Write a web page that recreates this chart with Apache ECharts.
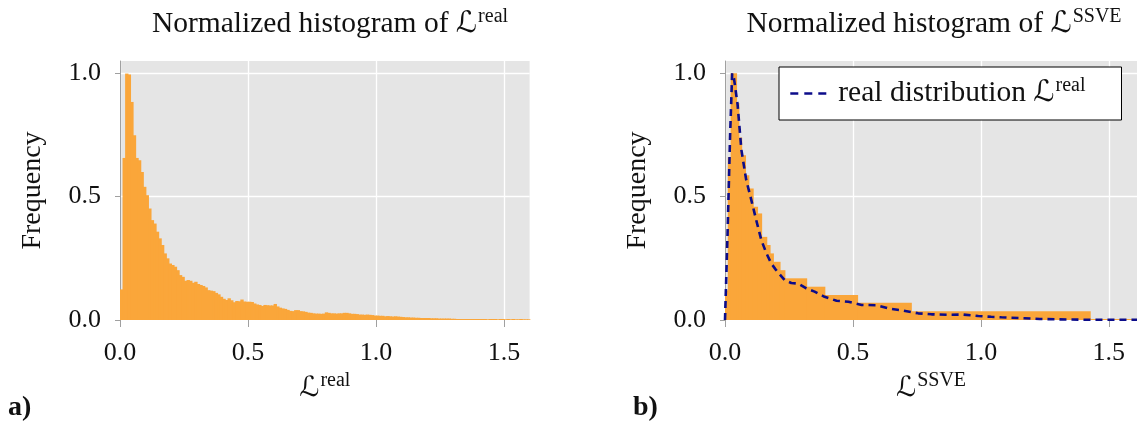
<!DOCTYPE html>
<html><head><meta charset="utf-8">
<script src="https://cdn.jsdelivr.net/npm/echarts@6/dist/echarts.min.js"></script>
<style>html,body{margin:0;padding:0;background:#fff}#c{width:1137px;height:425px}</style>
</head><body><div id="c"></div>
<script>
// ---------- data ----------
const binWidth = 0.01;
// left: normalized histogram of L_real (bins of width 0.01 starting at 0)
const realHist = [
 0.124,0.657,0.999,0.995,0.884,0.749,0.657,0.648,0.600,0.540,
 0.506,0.452,0.405,0.391,0.358,0.331,0.304,0.270,0.250,0.229,
 0.223,0.216,0.202,0.182,0.175,0.159,0.162,0.159,0.151,0.155,
 0.146,0.142,0.138,0.132,0.121,0.119,0.117,0.110,0.104,0.094,
 0.086,0.081,0.088,0.080,0.072,0.077,0.076,0.083,0.075,0.074,
 0.074,0.073,0.067,0.063,0.061,0.057,0.061,0.060,0.059,0.059,
 0.065,0.055,0.050,0.047,0.045,0.041,0.037,0.036,0.040,0.040,
 0.036,0.035,0.033,0.030,0.029,0.027,0.026,0.026,0.025,0.026,
 0.031,0.029,0.027,0.027,0.026,0.027,0.027,0.029,0.029,0.027,
 0.025,0.025,0.024,0.022,0.022,0.021,0.022,0.021,0.020,0.018,
 0.018,0.017,0.017,0.015,0.016,0.015,0.014,0.015,0.014,0.013,
 0.012,0.011,0.011,0.010,0.010,0.009,0.009,0.008,0.008,0.008,
 0.008,0.007,0.007,0.007,0.006,0.006,0.006,0.006,0.006,0.005,
 0.005,0.004,0.004,0.004,0.004,0.004,0.004,0.004,0.004,0.004,
 0.004,0.004,0.004,0.003,0.004,0.004,0.004,0.003,0.004,0.004,
 0.003,0.004,0.003,0.004,0.003,0.003,0.004,0.003,0.003,0.003
];
// right: normalized histogram of L_SSVE (bin edges + heights)
const ssveEdges = [0,0.011,0.022,0.044,0.053,0.064,0.079,0.092,0.109,0.126,0.142,0.162,0.175,0.188,0.214,0.233,0.318,0.389,0.517,0.727,1.426,1.61];
const ssveHist  = [0.12,0.66,1.0,0.88,0.74,0.668,0.587,0.533,0.459,0.432,0.337,0.304,0.27,0.236,0.202,0.169,0.135,0.101,0.070,0.035,0.004];
// right: dashed "real distribution" curve
const realLineX = [0,0.010,0.020,0.028,0.035,0.049,0.064,0.083,0.103,0.122,0.142,0.162,0.181,0.200,0.233,0.259,0.285,0.318,0.350,0.389,0.436,0.482,0.534,0.592,0.638,0.697,0.755,0.807,0.872,0.931,0.990,1.040,1.080,1.170,1.230,1.290,1.350,1.420,1.500,1.610];
const realLineY = [0,0.35,0.75,1.0,0.98,0.875,0.69,0.567,0.486,0.405,0.324,0.27,0.229,0.202,0.162,0.150,0.148,0.128,0.115,0.094,0.078,0.074,0.061,0.060,0.047,0.038,0.027,0.023,0.021,0.022,0.016,0.013,0.011,0.007,0.004,0.003,0.002,0.001,0.001,0.001];
const xTicks = [0, 0.5, 1.0, 1.5];
const yTicks = [0, 0.5, 1.0];

// ---------- style ----------
const FONT = "'Liberation Serif','DejaVu Serif','DejaVu Sans',serif";
const ORANGE = '#faa63a';
const NAVY = '#0c0c8a';
const BG = '#e5e5e5';
const AXIS = '#a0a0a0';

const realBars = realHist.map((v, i) => [i * binWidth, (i + 1) * binWidth, v]);
const ssveBars = ssveHist.map((v, i) => [ssveEdges[i], ssveEdges[i + 1], v]);
const realLine = realLineX.map((x, i) => [x, realLineY[i]]);

function rectItem(params, api) {
  const p0 = api.coord([api.value(0), api.value(2)]);
  const p1 = api.coord([api.value(1), 0]);
  return { type: 'rect',
    shape: { x: p0[0], y: p0[1], width: p1[0] - p0[0] + 0.8, height: p1[1] - p0[1] },
    style: { fill: ORANGE } };
}

function mkRich(pl, fs) {
  return {
    t: { fontFamily: FONT, fontSize: fs, fontWeight: 'normal', color: '#111', lineHeight: 34, padding: [0, 0, 0, pl || 0] },
    L: { fontFamily: FONT, fontSize: fs, fontWeight: 'normal', color: '#111', lineHeight: 34 },
    s: { fontFamily: FONT, fontSize: 20, fontWeight: 'normal', color: '#111', lineHeight: 34, padding: [0, 0, 15, 1] }
  };
}
const rich = mkRich(0, 28);
const titleRich = mkRich(0, 29.5);

function xAxis(gi, max, nm) {
  return { gridIndex: gi, type: 'value', min: 0, max: max, interval: 0.5,
    axisLine: { show: false },
    axisTick: { show: true, customValues: xTicks, length: 7, lineStyle: { color: AXIS } },
    axisLabel: { customValues: xTicks, formatter: v => v.toFixed(1), margin: 20,
      fontFamily: FONT, fontSize: 26, color: '#111' },
    splitLine: { show: true, lineStyle: { color: '#fff', width: 1.3 } },
    name: '{L|ℒ}{s|' + nm + '}', nameLocation: 'middle', nameGap: 46,
    nameTextStyle: { rich: rich } };
}
function yAxis(gi) {
  return { gridIndex: gi, type: 'value', min: 0, max: 1.05, interval: 0.5,
    axisLine: { show: true, lineStyle: { color: AXIS, width: 1 } },
    axisTick: { show: true, customValues: yTicks, length: 5, lineStyle: { color: AXIS } },
    axisLabel: { customValues: yTicks, formatter: v => v.toFixed(1), margin: 19,
      fontFamily: FONT, fontSize: 26, color: '#111' },
    splitLine: { show: true, lineStyle: { color: '#fff', width: 1.3 } },
    name: 'Frequency', nameLocation: 'middle', nameGap: 73, nameRotate: 90,
    nameTextStyle: { fontFamily: FONT, fontSize: 28, color: '#111' } };
}

const chart = echarts.init(document.getElementById('c'), null, { renderer: 'canvas' });
chart.setOption({
  animation: false,
  backgroundColor: '#fff',
  title: [
    { text: '{t|Normalized histogram of }{L|ℒ}{s|real}', left: 325, top: 2, textAlign: 'center',
      textStyle: { fontWeight: 'normal', rich: titleRich } },
    { text: '{t|Normalized histogram of }{L|ℒ}{s|SSVE}', left: 929, top: 2, textAlign: 'center',
      textStyle: { fontWeight: 'normal', rich: titleRich } }
  ],
  graphic: [
    { type: 'text', left: 8, top: 394, style: { text: 'a)', font: "bold 28px 'Liberation Serif'", fill: '#111' } },
    { type: 'text', left: 633, top: 394, style: { text: 'b)', font: "bold 28px 'Liberation Serif'", fill: '#111' } }
  ],
  legend: {
    data: ['real distribution'], left: 779, top: 67,
    backgroundColor: '#fff', borderColor: '#000', borderWidth: 1, borderRadius: 0,
    padding: [9, 36, 9, 10], itemWidth: 38, itemHeight: 14, itemGap: 10,
    itemStyle: { opacity: 0 },
    lineStyle: { type: [8, 6], width: 2.6, color: NAVY },
    formatter: () => '{t|real distribution }{L|ℒ}{s|real}',
    textStyle: { rich: mkRich(5, 29.5) }
  },
  grid: [
    { left: 120, top: 61, width: 409.6, height: 259, show: true, backgroundColor: BG, borderWidth: 0 },
    { left: 725, top: 61, width: 412.2, height: 259, show: true, backgroundColor: BG, borderWidth: 0 }
  ],
  xAxis: [ xAxis(0, 1.6, 'real'), xAxis(1, 1.61, 'SSVE') ],
  yAxis: [ yAxis(0), yAxis(1) ],
  series: [
    { type: 'custom', name: 'real hist', xAxisIndex: 0, yAxisIndex: 0, renderItem: rectItem,
      encode: { x: [0, 1], y: 2 }, data: realBars, z: 2 },
    { type: 'custom', name: 'ssve hist', xAxisIndex: 1, yAxisIndex: 1, renderItem: rectItem,
      encode: { x: [0, 1], y: 2 }, data: ssveBars, z: 2 },
    { type: 'line', name: 'real distribution', xAxisIndex: 1, yAxisIndex: 1, data: realLine,
      symbol: 'none', z: 3,
      lineStyle: { color: NAVY, width: 2.6, type: [7, 5] }, itemStyle: { color: NAVY } }
  ]
});
</script></body></html>
